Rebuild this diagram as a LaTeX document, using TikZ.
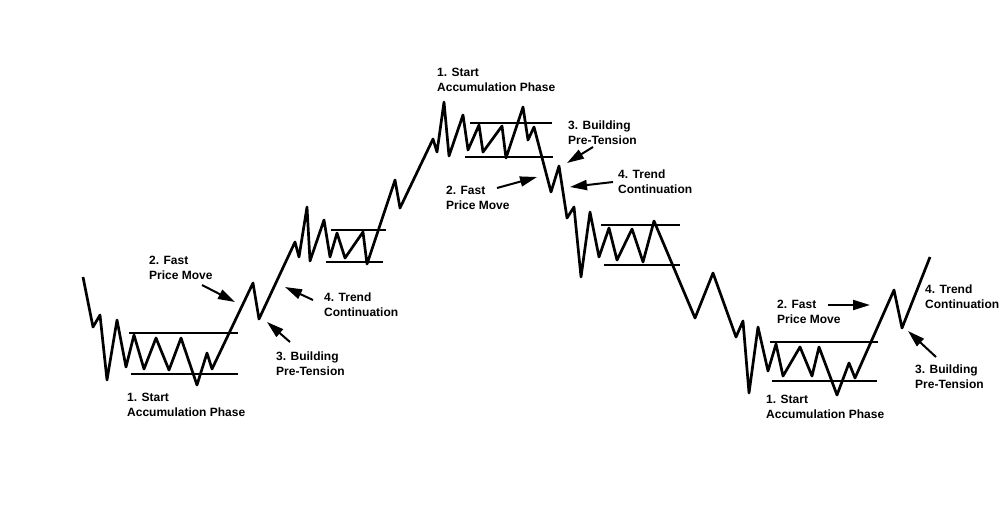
\documentclass[tikz,border=0pt]{standalone}
\usepackage{fontspec}
\setmainfont{Liberation Sans}
\usetikzlibrary{arrows.meta}

\tikzset{
  priceline/.style={black, line width=2.7pt, line join=round},
  rangeline/.style={black, line width=2.3pt},
  pointer/.style={black, line width=2pt, -{Triangle[length=17pt,width=10pt]}},
  phase/.style={anchor=north west, inner sep=0pt, align=left,
    font=\fontsize{12}{14.5}\selectfont\bfseries}
}

\begin{document}
\begin{tikzpicture}[x=1pt, y=-1pt]
\useasboundingbox (0,0) rectangle (1000,507);
%price line
\draw[priceline] (83,277) -- (93,327) -- (100,315) -- (107,380) -- (117,320)
  -- (126,367) -- (134,335) -- (144,369) -- (156,338) -- (169,370)
  -- (181,338) -- (197,385) -- (207,353) -- (212,369) -- (253,283)
  -- (259,319) -- (295,242) -- (299,257) -- (307,207) -- (310,261)
  -- (324,220) -- (330,257) -- (337,233) -- (345,258) -- (363,232)
  -- (367,264) -- (395,180) -- (400,208) -- (433,139) -- (437,152)
  -- (444,102) -- (449,156) -- (463,115) -- (468,150) -- (479,125)
  -- (483,152) -- (502,126) -- (506,158) -- (523,107) -- (528,140)
  -- (534,127) -- (551,192) -- (559,166) -- (567,218) -- (574,207)
  -- (581,277) -- (590,212) -- (599,257) -- (609,228) -- (617,260)
  -- (632,229) -- (643,262) -- (654,221) -- (695,318) -- (713,273)
  -- (736,337) -- (743,321) -- (749,393) -- (758,327) -- (768,371)
  -- (776,344) -- (783,376) -- (800,347) -- (812,376) -- (819,347)
  -- (837,395) -- (849,363) -- (855,378) -- (894,290) -- (902,328)
  -- (930,257);
%ranges
\draw[rangeline] (129,333) -- (238,333);
\draw[rangeline] (131,374) -- (238,374);
\draw[rangeline] (331,230) -- (386,230);
\draw[rangeline] (326,262) -- (383,262);
\draw[rangeline] (470,123) -- (552,123);
\draw[rangeline] (465,157) -- (553,157);
\draw[rangeline] (601,225) -- (680,225);
\draw[rangeline] (604,265) -- (680,265);
\draw[rangeline] (770,342) -- (878,342);
\draw[rangeline] (772,381) -- (877,381);
%labels left
\node[phase] (start1) at (127,393) {1. Start\\Accumulation Phase};
\node[phase] (fast1) at (149,256) {2. Fast\\Price Move};
\node[phase] (build1) at (276,352) {3. Building\\Pre-Tension};
\node[phase] (trend1) at (324,293) {4. Trend\\Continuation};
%labels middle
\node[phase] (start2) at (437,68) {1. Start\\Accumulation Phase};
\node[phase] (fast2) at (446,186) {2. Fast\\Price Move};
\node[phase] (build2) at (568,121) {3. Building\\Pre-Tension};
\node[phase] (trend2) at (618,170) {4. Trend\\Continuation};
%labels right
\node[phase] (start3) at (766,395) {1. Start\\Accumulation Phase};
\node[phase] (fast3) at (777,300) {2. Fast\\Price Move};
\node[phase] (build3) at (915,365) {3. Building\\Pre-Tension};
\node[phase] (trend3) at (925,285) {4. Trend\\Continuation};
%arrow ends
\coordinate (fast1 from) at (202,285);  \coordinate (fast1 to) at (235,302);
\coordinate (trend1 from) at (313,300); \coordinate (trend1 to) at (285,287);
\coordinate (build1 from) at (290,342); \coordinate (build1 to) at (267,322);
\coordinate (fast2 from) at (497,188);  \coordinate (fast2 to) at (537,177);
\coordinate (build2 from) at (593,147); \coordinate (build2 to) at (567,163);
\coordinate (trend2 from) at (613,182); \coordinate (trend2 to) at (570,187);
\coordinate (fast3 from) at (828,305);  \coordinate (fast3 to) at (870,305);
\coordinate (build3 from) at (936,357); \coordinate (build3 to) at (908,331);
%arrows
\draw[pointer] (fast1 from) -- (fast1 to);
\draw[pointer] (trend1 from) -- (trend1 to);
\draw[pointer] (build1 from) -- (build1 to);
\draw[pointer] (fast2 from) -- (fast2 to);
\draw[pointer] (build2 from) -- (build2 to);
\draw[pointer] (trend2 from) -- (trend2 to);
\draw[pointer] (fast3 from) -- (fast3 to);
\draw[pointer] (build3 from) -- (build3 to);
\end{tikzpicture}
\end{document}
